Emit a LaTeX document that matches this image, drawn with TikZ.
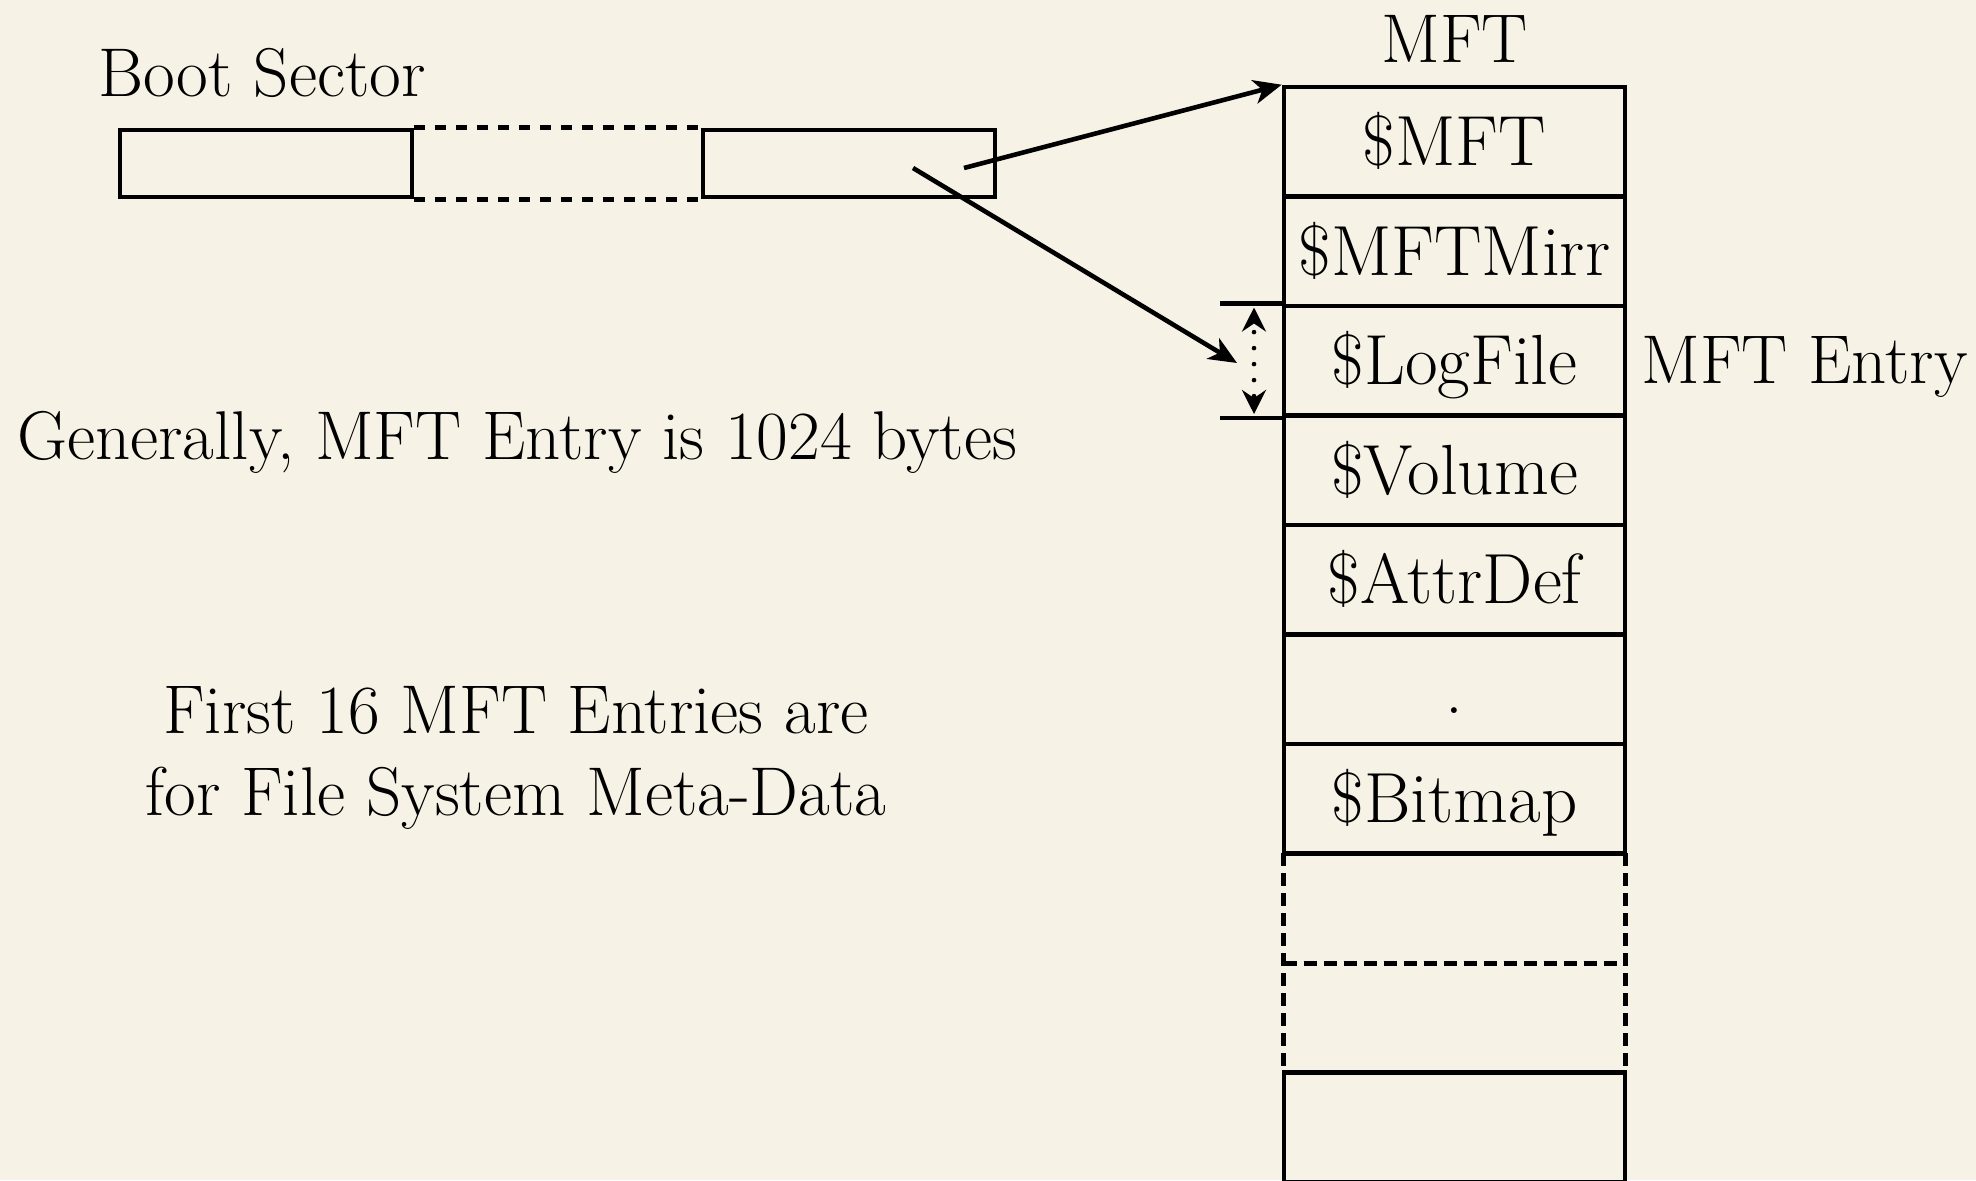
\documentclass[tikz,border=0pt]{standalone}
\usepackage{fix-cm}
\usetikzlibrary{arrows.meta}
\DeclareFontFamily{OT1}{cmrten}{}
\DeclareFontShape{OT1}{cmrten}{m}{n}{<-> cmr10}{}
\definecolor{bg}{RGB}{246,242,230}
\tikzset{
  bigfont/.style={font=\fontfamily{cmrten}\fontsize{34.5}{41}\selectfont},
  cellfont/.style={font=\fontfamily{cmrten}\fontsize{35.5}{41}\selectfont},
  cell/.style={draw, line width=2.3pt, minimum width=170.5pt, minimum height=54.75pt,
    inner sep=0pt, text height=23.8pt, text depth=0pt, cellfont},
  blank/.style={minimum width=170.5pt, minimum height=54.75pt, inner sep=0pt},
  bootbox/.style={draw, line width=2.3pt, minimum width=146pt, minimum height=33.5pt, inner sep=0pt},
  label/.style={inner sep=0pt, bigfont},
  gapline/.style={line width=2.3pt, dash pattern=on 5.5pt off 5pt},
  celldash/.style={line width=2.3pt, dash pattern=on 6.5pt off 3.5pt},
  plainline/.style={line width=2.3pt},
  pointer/.style={line width=2.3pt, -{Stealth[length=14pt,width=12pt,inset=4pt]}},
  sizearrow/.style={line width=2.3pt, line cap=round, dash pattern=on 0pt off 8pt, dash phase=3pt,
    {Stealth[length=12pt,width=12pt,inset=4pt]}-{Stealth[length=12pt,width=12pt,inset=4pt]}},
}
\begin{document}
\begin{tikzpicture}[x=0.5pt,y=-0.5pt]
\useasboundingbox[fill=bg] (0,0) rectangle (1976,1180);

% boot sector
\node[label, anchor=base west] (bslabel) at (98,96) {Boot Sector};
\node[bootbox] (b1) at (266,163.5) {};
\node[bootbox] (b3) at (849,163.5) {};
\draw[gapline] (b1.north east) -- (b3.north west);
\draw[gapline] (b1.south east) -- (b3.south west);

% MFT column
\node[label, anchor=base] (mftlabel) at (1454.5,62) {MFT};
\node[cell] (m1) at (1454.5,141.75) {\$MFT};
\node[cell] (m2) at (1454.5,251.25) {\$MFTMirr};
\node[cell] (m3) at (1454.5,360.75) {\$LogFile};
\node[cell] (m4) at (1454.5,470.25) {\$Volume};
\node[cell] (m5) at (1454.5,579.75) {\$AttrDef};
\node[cell] (m6) at (1454.5,689.25) {.};
\node[cell] (m7) at (1454.5,798.75) {\$Bitmap};
\node[blank] (m8) at (1454.5,908.25) {};
\node[blank] (m9) at (1454.5,1017.75) {};
\node[cell] (m10) at (1454.5,1127.25) {};
\draw[celldash] (m8.north west) -- (m9.south west);
\draw[celldash] (m8.north east) -- (m9.south east);
\draw[celldash] (m8.south west) -- (m8.south east);

% MFT entry size marker
\coordinate (ext) at (1220,0);
\draw[plainline] (m3.north west) -- (m3.north west -| ext);
\draw[plainline] (m3.south west) -- (m3.south west -| ext);
\coordinate (sa) at (1254,307.5);
\coordinate (sb) at (1254,414);
\draw[sizearrow] (sa) -- (sb);
\node[label, anchor=base west] (entry) at (1641,383) {MFT Entry};

% pointers
\coordinate (p1) at (964,168);
\coordinate (p2) at (913,168);
\coordinate (p2e) at (1237,363);
\draw[pointer] (p1) -- (m1.north west);
\draw[pointer] (p2) -- (p2e);

% notes
\node[label, anchor=base] (gen) at (517,459) {Generally, MFT Entry is 1024 bytes};
\node[label, anchor=base] (f1) at (516,733) {First 16 MFT Entries are};
\node[label, anchor=base] (f2) at (516,815) {for File System Meta-Data};
\end{tikzpicture}
\end{document}
